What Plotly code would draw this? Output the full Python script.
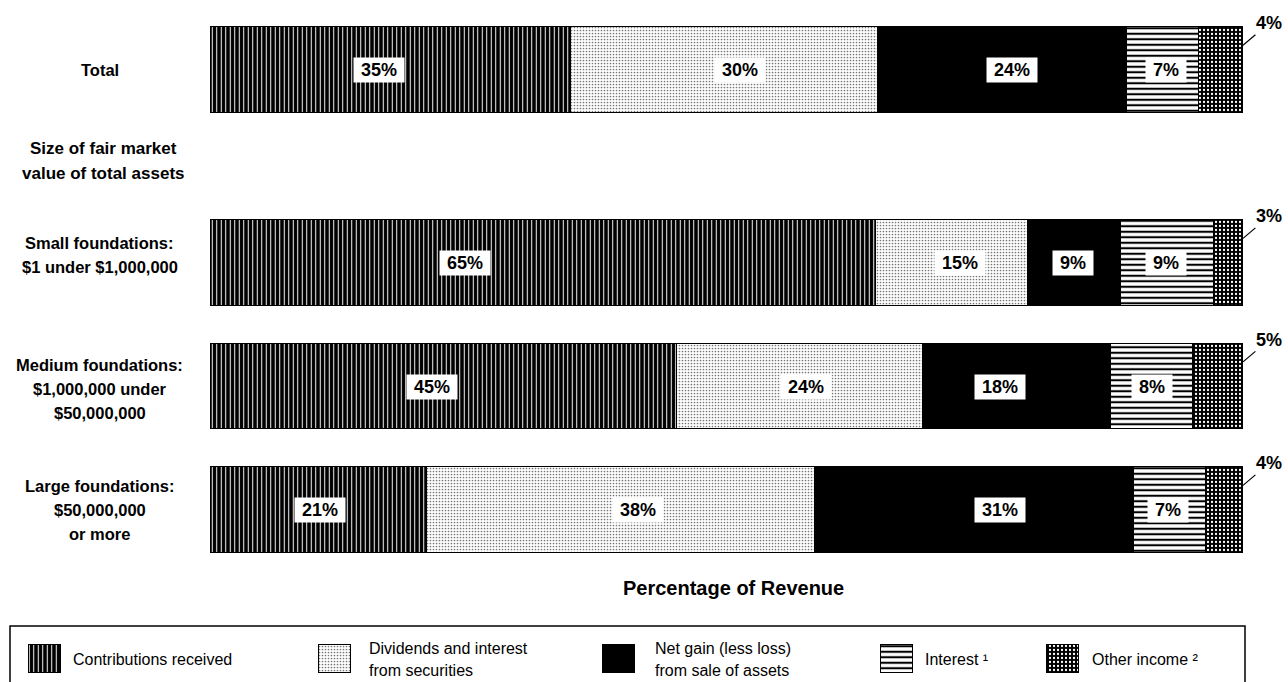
import plotly.graph_objects as go

# ---------------- data ----------------
ROWS = ["Total", "Small", "Medium", "Large"]
SERIES = [
    "Contributions received",
    "Dividends and interest from securities",
    "Net gain (less loss) from sale of assets",
    "Interest ¹",
    "Other income ²",
]
contributions = [34.9, 64.5, 45.2, 21.0]
dividends = [29.8, 14.7, 23.8, 37.6]
net_gain = [24.1, 9.0, 18.2, 30.8]
interest = [6.9, 9.0, 8.0, 7.0]
other_income = [4.3, 2.8, 4.8, 3.6]

contributions_lbl = ["35%", "65%", "45%", "21%"]
dividends_lbl = ["30%", "15%", "24%", "38%"]
net_gain_lbl = ["24%", "9%", "18%", "31%"]
interest_lbl = ["7%", "9%", "8%", "7%"]
other_income_lbl = ["4%", "3%", "5%", "4%"]

ROW_LABELS = [
    ["Total"],
    ["Small foundations:", "$1 under $1,000,000"],
    ["Medium foundations:", "$1,000,000 under", "$50,000,000"],
    ["Large foundations:", "$50,000,000", "or more"],
]
LEGEND_TEXT = [
    ["Contributions received"],
    ["Dividends and interest", "from securities"],
    ["Net gain (less loss)", "from sale of assets"],
    ["Interest ¹"],
    ["Other income ²"],
]

# ---------------- layout constants ----------------
W, H = 1288, 682
FONT = "Liberation Sans, Arial, Helvetica, sans-serif"
ROW_POS = [3.563, 2, 1, 0]
BAR_W = 0.69
ROW_LABEL_SHIFT = [0, 8, -2, 0]
LABEL_XSHIFT = [
    [-11, -78, -11, 2],
    [16, 8, 6, 17],
    [9, -2, -17, 26],
    [3, -2, 0, -2],
]
PATTERNS = [
    dict(color="black", pattern=dict(shape="|", bgcolor="black", fgcolor="white", size=4.5, solidity=0.22, fillmode="replace")),
    dict(color="white", pattern=dict(shape=".", bgcolor="white", fgcolor="#777777", size=3, solidity=0.25, fillmode="replace")),
    dict(color="black"),
    dict(color="white", pattern=dict(shape="-", bgcolor="white", fgcolor="black", size=5.5, solidity=0.38, fillmode="replace")),
    dict(color="black", pattern=dict(shape=".", bgcolor="#000000", fgcolor="white", size=4, solidity=0.25, fillmode="replace")),
]
LEG_SWATCH_X = [45, 335, 619, 897, 1063]
LEG_TEXT_X = [71, 367, 653, 923, 1090]

values = [contributions, dividends, net_gain, interest, other_income]
labels = [contributions_lbl, dividends_lbl, net_gain_lbl, interest_lbl, other_income_lbl]

fig = go.Figure()
for name, vals, pat in zip(SERIES, values, PATTERNS):
    fig.add_trace(go.Bar(
        y=ROW_POS, x=vals, orientation="h", name=name, width=BAR_W,
        marker=dict(line=dict(color="black", width=1), **pat),
        showlegend=False, hoverinfo="skip", xaxis="x", yaxis="y",
    ))

# legend swatches drawn as small bars on a full-page overlay axis
for name, pat, sx in zip(SERIES, PATTERNS, LEG_SWATCH_X):
    fig.add_trace(go.Bar(
        x=[sx], y=[28], base=[645], width=[32], name=name,
        marker=dict(line=dict(color="black", width=1), **pat),
        showlegend=False, hoverinfo="skip", xaxis="x2", yaxis="y2",
    ))

ann = []
n_rows = len(ROWS)
for r in range(n_rows):
    cum = 0.0
    for s in range(len(SERIES)):
        v = values[s][r]
        if s < 4:
            ann.append(dict(
                x=cum + v / 2, y=ROW_POS[r], xref="x", yref="y",
                xshift=LABEL_XSHIFT[s][r],
                text="\u00a0" + labels[s][r] + "\u00a0", showarrow=False,
                bgcolor="white", borderpad=2,
                font=dict(family=FONT, size=18, color="black", weight="bold"),
            ))
        cum += v
    cum = round(cum, 6)
    ann.append(dict(
        x=cum, y=ROW_POS[r] + 0.2, xref="x", yref="y",
        text=labels[4][r], showarrow=True, arrowhead=0, arrowwidth=1.2,
        arrowcolor="black", ax=26, ay=-22, standoff=0, startstandoff=0,
        font=dict(family=FONT, size=18, color="black", weight="bold"),
    ))

for r, lines in enumerate(ROW_LABELS):
    n = len(lines)
    for i, line in enumerate(lines):
        ann.append(dict(
            x=100 / W, xref="paper", y=ROW_POS[r], yref="y",
            yshift=-(i - (n - 1) / 2) * 24 + ROW_LABEL_SHIFT[r],
            text=line, showarrow=False, xanchor="center", yanchor="middle",
            font=dict(family=FONT, size=16.5, color="black", weight="bold"),
        ))

for i, line in enumerate(["Size of fair market", "value of total assets"]):
    ann.append(dict(
        x=103 / W, xref="paper", y=1 - (148 + 25 * i) / H, yref="paper",
        text=line, showarrow=False, xanchor="center", yanchor="middle",
        font=dict(family=FONT, size=17, color="black", weight="bold"),
    ))

ann.append(dict(
    x=733 / W, xref="paper", y=1 - 588 / H, yref="paper",
    text="Percentage of Revenue", showarrow=False, xanchor="center", yanchor="middle",
    font=dict(family=FONT, size=20, color="black", weight="bold"),
))

for lines, tx in zip(LEGEND_TEXT, LEG_TEXT_X):
    n = len(lines)
    for i, line in enumerate(lines):
        yc = 659 + (i - (n - 1) / 2) * 22
        ann.append(dict(
            x=tx / W, xref="paper", y=1 - yc / H, yref="paper",
            text=line, showarrow=False, xanchor="left", yanchor="middle",
            font=dict(family=FONT, size=16, color="black"),
        ))

fig.update_layout(
    width=W, height=H,
    margin=dict(l=0, r=0, t=0, b=0),
    paper_bgcolor="white", plot_bgcolor="rgba(0,0,0,0)",
    barmode="stack", bargap=0,
    font=dict(family=FONT, color="black"),
    xaxis=dict(domain=[210 / W, 1243 / W], range=[0, 100], visible=False, anchor="y", fixedrange=True),
    yaxis=dict(domain=[117 / H, 662 / H], range=[-0.445, 3.968], visible=False, anchor="x", fixedrange=True),
    xaxis2=dict(domain=[0, 1], range=[0, W], visible=False, anchor="y2", fixedrange=True),
    yaxis2=dict(domain=[0, 1], range=[H, 0], visible=False, anchor="x2", fixedrange=True),
    annotations=ann,
    shapes=[dict(type="rect", xref="paper", yref="paper",
                 x0=10 / W, x1=1245 / W, y0=1 - 690 / H, y1=1 - 626 / H,
                 line=dict(color="black", width=1.5), fillcolor="rgba(0,0,0,0)")],
)

fig.write_html("out.html")
